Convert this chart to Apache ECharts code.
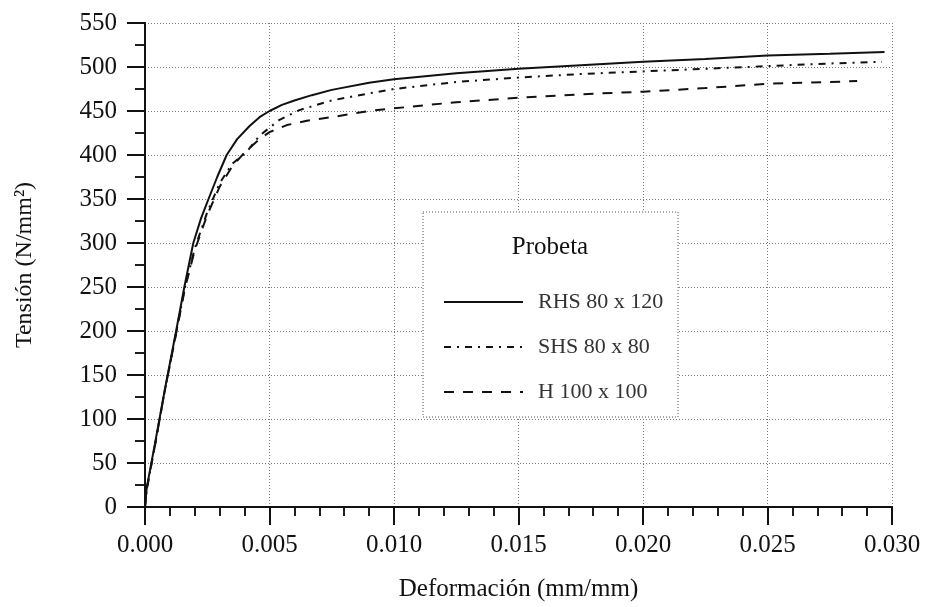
<!DOCTYPE html>
<html>
<head>
<meta charset="utf-8">
<script src="https://cdn.jsdelivr.net/npm/echarts@6/dist/echarts.min.js"></script>
<style>html,body{margin:0;padding:0;background:#fff}#c{width:928px;height:607px}</style>
</head>
<body>
<div id="c"></div>
<script>
// Data (strain in mm/mm, stress in N/mm2)
var seriesNames = ['RHS 80 x 120', 'SHS 80 x 80', 'H 100 x 100'];

var strainRHS = [0, 0.00007, 0.0004, 0.0008, 0.00125, 0.00158, 0.00194, 0.00225, 0.00255, 0.0029, 0.00328, 0.0037, 0.0042, 0.0046, 0.005, 0.0055, 0.006, 0.0067, 0.0075, 0.009, 0.010, 0.0125, 0.015, 0.0175, 0.020, 0.0225, 0.025, 0.0275, 0.0297];
var stressRHS = [0, 22, 72, 134, 200, 250, 300, 328, 350, 375, 400, 418, 433, 443, 450, 457, 462, 468, 474, 482, 486, 493, 498, 502, 506, 509, 513, 515, 517];

var strainSHS = [0, 0.00007, 0.0004, 0.0008, 0.00125, 0.0016, 0.002, 0.0025, 0.003, 0.0035, 0.0041, 0.0046, 0.0054, 0.0062, 0.0075, 0.009, 0.010, 0.0125, 0.015, 0.0175, 0.020, 0.0225, 0.025, 0.0275, 0.0296];
var stressSHS = [0, 20, 70, 133, 198, 249, 294, 335, 368, 390, 404, 422, 440, 451, 462, 470, 475, 483, 488, 492, 495, 498, 501, 504, 506];

var strainH = [0, 0.00007, 0.0004, 0.0008, 0.00125, 0.0016, 0.002, 0.0025, 0.003, 0.0035, 0.004, 0.0046, 0.005, 0.0057, 0.0065, 0.0075, 0.009, 0.010, 0.0125, 0.015, 0.0175, 0.020, 0.0225, 0.025, 0.0275, 0.0286];
var stressH = [0, 20, 70, 133, 197, 248, 292, 332, 364, 387, 403, 418, 426, 434, 439, 443, 450, 453, 460, 465, 469, 472, 476, 481, 483, 484];

var xTicks = {min: 0, max: 0.030, step: 0.005};
var yTicks = {min: 0, max: 550, step: 50};

function pairs(xs, ys) { return xs.map(function (x, i) { return [x, ys[i]]; }); }

var FONT = 'Liberation Serif';
var INK = '#111';
var grid = {left: 145, right: 36, top: 23, bottom: 97};

var baseAxisLine = {show: true, lineStyle: {color: INK, width: 2}};
var split = {show: true, lineStyle: {color: '#777', type: [1, 2], width: 1}};

var chart = echarts.init(document.getElementById('c'), null, {renderer: 'canvas'});
chart.setOption({
  backgroundColor: '#fff',
  animation: false,
  grid: grid,
  xAxis: [{
    type: 'value', position: 'bottom',
    min: xTicks.min, max: xTicks.max, interval: xTicks.step,
    axisLine: baseAxisLine,
    axisTick: {show: true, inside: false, length: 18, lineStyle: {color: INK, width: 2}},
    minorTick: {show: true, splitNumber: 5, length: 9, lineStyle: {color: INK, width: 1.5}},
    splitLine: split,
    axisLabel: {fontFamily: FONT, fontSize: 25, color: INK, margin: 26, formatter: function (v) { return v.toFixed(3); }},
    name: 'Deformación (mm/mm)', nameLocation: 'middle', nameGap: 70,
    nameTextStyle: {fontFamily: FONT, fontSize: 25, color: INK}
  }, {
    type: 'value', position: 'top',
    min: xTicks.min, max: xTicks.max, interval: xTicks.step,
    axisLine: baseAxisLine,
    axisTick: {show: true, inside: true, length: 17, lineStyle: {color: INK, width: 2}},
    minorTick: {show: true, splitNumber: 5, length: 9, lineStyle: {color: INK, width: 1.5}},
    splitLine: {show: false},
    axisLabel: {show: false}
  }],
  yAxis: [{
    type: 'value', position: 'left',
    min: yTicks.min, max: yTicks.max, interval: yTicks.step,
    axisLine: baseAxisLine,
    axisTick: {show: true, inside: false, length: 18, lineStyle: {color: INK, width: 2}},
    minorTick: {show: true, splitNumber: 2, length: 10, lineStyle: {color: INK, width: 1.5}},
    splitLine: split,
    axisLabel: {fontFamily: FONT, fontSize: 25, color: INK, margin: 28},
    name: 'Tensión (N/mm²)', nameLocation: 'middle', nameGap: 108, nameRotate: 90,
    nameTextStyle: {fontFamily: FONT, fontSize: 24, color: INK}
  }, {
    type: 'value', position: 'right',
    min: yTicks.min, max: yTicks.max, interval: yTicks.step,
    axisLine: baseAxisLine,
    axisTick: {show: true, inside: true, length: 18, lineStyle: {color: INK, width: 2}},
    minorTick: {show: true, splitNumber: 2, length: 10, lineStyle: {color: INK, width: 1.5}},
    splitLine: {show: false},
    axisLabel: {show: false}
  }],
  legend: {
    show: true, orient: 'vertical', left: 438, top: 285, z: 100,
    selectedMode: false,
    itemWidth: 79, itemHeight: 14, itemGap: 21,
    itemStyle: {opacity: 0, borderWidth: 0},
    textStyle: {fontFamily: FONT, fontSize: 22, color: '#333', lineHeight: 24, padding: [0, 0, 0, 10]},
    data: seriesNames
  },
  graphic: [{
    type: 'rect', z: 50,
    shape: {x: 423, y: 212, width: 255, height: 205},
    style: {fill: '#fff', stroke: '#555', lineWidth: 1, lineDash: [1, 2]}
  }, {
    type: 'text', z: 51, x: 550, y: 247,
    style: {text: 'Probeta', fontFamily: FONT, fontSize: 25, fill: INK, align: 'center', verticalAlign: 'middle'}
  }],
  series: [{
    name: seriesNames[0], type: 'line', xAxisIndex: 0, yAxisIndex: 0,
    data: pairs(strainRHS, stressRHS), showSymbol: false, symbol: 'none',
    smooth: false,
    itemStyle: {color: INK},
    lineStyle: {color: INK, width: 2, type: 'solid'}
  }, {
    name: seriesNames[1], type: 'line', xAxisIndex: 0, yAxisIndex: 0,
    data: pairs(strainSHS, stressSHS), showSymbol: false, symbol: 'none',
    smooth: false,
    itemStyle: {color: INK},
    lineStyle: {color: INK, width: 2, type: [7, 6, 2, 6]}
  }, {
    name: seriesNames[2], type: 'line', xAxisIndex: 0, yAxisIndex: 0,
    data: pairs(strainH, stressH), showSymbol: false, symbol: 'none',
    smooth: false,
    itemStyle: {color: INK},
    lineStyle: {color: INK, width: 2, type: [10, 9]}
  }]
});
</script>
</body>
</html>
